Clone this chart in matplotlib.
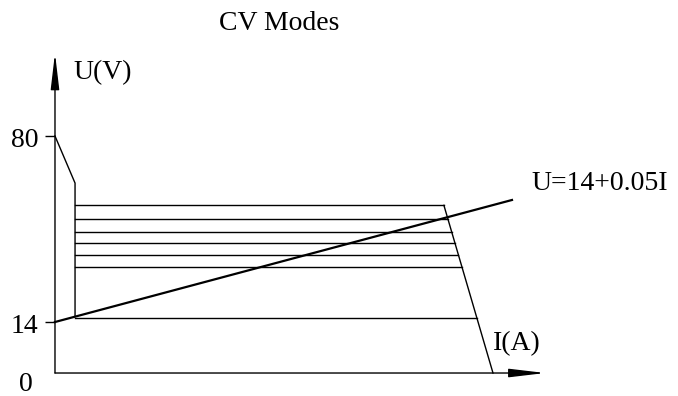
import numpy as np
import matplotlib
matplotlib.use("Agg")
import matplotlib.pyplot as plt

plt.rcParams["font.family"] = ["Liberation Serif", "DejaVu Serif"]

# --- characteristic data (I in A, U in V) ---
u_ticks = [0, 14, 80]              # labelled voltages on the U axis
u_open = 80                        # open-circuit voltage
i_knee, u_knee = 38, 63.3          # end of the open-circuit droop
cv_levels = [55.4, 50.6, 45.9, 42.0, 37.9, 33.5, 15.3]   # CV set points
i_corner = 737                     # current where the top CV line meets the limit
i_short = 830                      # current limit at U = 0
load_u0, load_slope = 14, 0.05     # load line U = 14 + 0.05 I
load_i_end = 866
i_axis_end, u_axis_end = 929, 109.4

# The sketch is not to scale: the 0-14 V band is drawn stretched.
def fwd(v):
    v = np.asarray(v, dtype=float)
    return np.where(v <= 14, v * 51 / 14, 51 + (v - 14) * 186 / 66)

def inv(p):
    p = np.asarray(p, dtype=float)
    return np.where(p <= 51, p * 14 / 51, 14 + (p - 51) * 66 / 186)

fig = plt.figure(figsize=(6.78, 3.96), dpi=100)
ax = fig.add_axes([0, 0, 1, 1])
ax.set_yscale("function", functions=(fwd, inv))
ax.set_xlim(-104.2, 1180.6)
ax.set_ylim(-6.31, 128.26)
ax.axis("off")

lw = 1.0
k = "black"

# axes with slender arrow heads
arrow = dict(arrowstyle="-|>,head_length=2.2,head_width=0.26", color=k, lw=lw,
             shrinkA=0, shrinkB=0, mutation_scale=10)
ax.annotate("", xy=(0, u_axis_end), xytext=(0, 0), arrowprops=arrow)
ax.annotate("", xy=(i_axis_end, 0), xytext=(0, 0), arrowprops=arrow)

# tick marks and labels
tick_len = 19
for u in u_ticks:
    if u > 0:
        ax.plot([-tick_len, 0], [u, u], color=k, lw=lw, solid_capstyle="butt")
        ax.annotate(str(u), xy=(-tick_len, u), xytext=(-5, -3),
                    textcoords="offset points", ha="right", va="center",
                    fontsize=20)
    else:
        ax.annotate(str(u), xy=(0, u), xytext=(-16, -8),
                    textcoords="offset points", ha="right", va="center",
                    fontsize=20)

ax.annotate("U(V)", xy=(0, u_axis_end), xytext=(13, -14),
            textcoords="offset points", ha="left", va="center", fontsize=20)
ax.annotate("I(A)", xy=(i_short, 0), xytext=(0, 21),
            textcoords="offset points", ha="left", va="center", fontsize=20)

# open-circuit droop and left edge of the CV region
load_at_knee = load_u0 + load_slope * i_knee
ax.plot([0, i_knee, i_knee], [u_open, u_knee, load_at_knee], color=k, lw=lw)

# current-limit edge
u_top = max(cv_levels)
ax.plot([i_corner, i_short], [u_top, 0], color=k, lw=lw)

# CV set-point lines, each ending on the current-limit edge
f0, ftop = fwd(0), fwd(u_top)
for u in cv_levels:
    frac = (fwd(u) - f0) / (ftop - f0)
    i_end = i_short + (i_corner - i_short) * frac
    ax.plot([i_knee, i_end], [u, u], color=k, lw=lw)

# load line
i_load = np.array([0, load_i_end])
ax.plot(i_load, load_u0 + load_slope * i_load, color=k, lw=1.6)
ax.annotate("U=14+0.05I", xy=(load_i_end, load_u0 + load_slope * load_i_end),
            xytext=(14, 12), textcoords="offset points", ha="left",
            va="center", fontsize=20)

fig.text(279 / 678, 1 - 23 / 396, "CV Modes", ha="center", va="center",
         fontsize=20)

fig.savefig("out.png", dpi=100)
